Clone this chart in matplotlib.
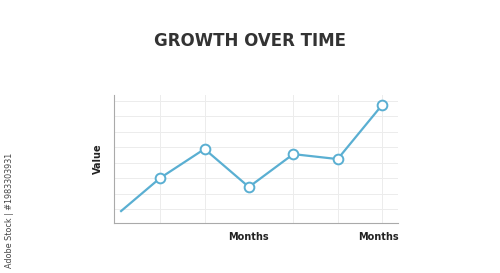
import matplotlib.pyplot as plt

# data
x_pos = [0.12, 1, 2, 3, 4, 5, 6]
values = [0.89, 3.02, 4.89, 2.44, 4.56, 4.24, 7.72]
marker_idx = [1, 2, 3, 4, 5, 6]
tick_pos = [3, 5.93]
tick_labels = ['Months', 'Months']

line_color = '#5aafd2'

fig = plt.figure(figsize=(5, 2.73), dpi=100)
fig.patch.set_facecolor('white')
ax = fig.add_axes([0.228, 0.182, 0.568, 0.470])

ax.plot(x_pos, values, color=line_color, lw=1.6, zorder=3,
        marker='o', markevery=marker_idx, markersize=7,
        markerfacecolor='white', markeredgecolor=line_color, markeredgewidth=1.4)

ax.set_xlim(-0.04, 6.36)
ax.set_ylim(0.1, 8.37)
ax.set_xticks(range(1, 7), minor=True)
ax.set_yticks(range(1, 9))
ax.set_yticklabels([])
ax.set_xticks(tick_pos)
ax.set_xticklabels(tick_labels, fontsize=7, fontweight='bold', color='#222222')
ax.tick_params(axis='x', length=0, pad=6)
ax.tick_params(axis='y', length=0, pad=0)
ax.tick_params(axis='x', which='minor', length=0)
ax.grid(True, which='minor', axis='x', color='#ececec', lw=0.7)
ax.grid(True, which='major', axis='y', color='#ececec', lw=0.7)
ax.set_axisbelow(True)

for s in ['top', 'right']:
    ax.spines[s].set_visible(False)
for s in ['left', 'bottom']:
    ax.spines[s].set_color('#aaaaaa')
    ax.spines[s].set_linewidth(0.8)

ax.set_ylabel('Value', fontsize=7, fontweight='bold', color='#222222', labelpad=8)

fig.text(0.5, 0.85, 'GROWTH OVER TIME', ha='center', va='center',
         fontsize=12, fontweight='bold', color='#333333')

fig.text(0.02, 0.02, 'Adobe Stock | #1983303931', rotation=90, ha='center', va='bottom',
         fontsize=5.8, color='#444444')

fig.savefig('out.png', dpi=100, facecolor='white')
